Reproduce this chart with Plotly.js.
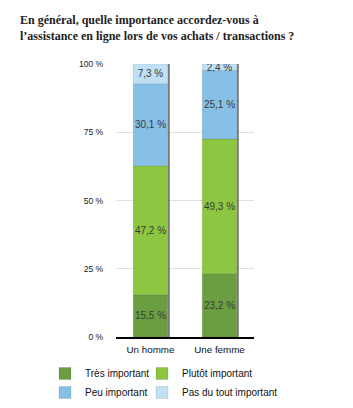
<!DOCTYPE html>
<html><head><meta charset="utf-8">
<script src="https://cdn.plot.ly/plotly-3.0.1.min.js"></script>
<style>html,body{margin:0;padding:0;background:#fff}#chart{width:353px;height:408px}</style>
</head><body><div id="chart"></div>
<script>
const categories = ["Un homme", "Une femme"];
const tresImportant = [15.5, 23.2];
const plutotImportant = [47.2, 49.3];
const peuImportant = [30.1, 25.1];
const pasDuTout = [7.3, 2.4];
const seriesNames = ["Très important", "Plutôt important", "Peu important", "Pas du tout important"];
const tickVals = [0, 25, 50, 75, 100];
const tickText = ["0 %", "25 %", "50 %", "75 %", "100 %"];

const colors = ["#6b9e41", "#8dc641", "#86c0e7", "#c0e0f5"];
const series = [tresImportant, plutotImportant, peuImportant, pasDuTout];
const legendOf = ["legend", "legend2", "legend", "legend2"];

// cumulative bases derived from the data
const bases = series.map((s, i) => categories.map((c, j) => series.slice(0, i).reduce((a, arr) => a + arr[j], 0)));
const totals = categories.map((c, j) => series.reduce((s, a) => s + a[j], 0));

const traces = [{
  type: "bar", x: categories, y: totals, base: 0, width: 0.03, offset: 0.25,
  marker: {color: "rgba(80,80,80,0.75)"}, showlegend: false, hoverinfo: "skip"
}];
series.forEach((vals, i) => traces.push({
  type: "bar", x: categories, y: vals, base: bases[i], name: seriesNames[i],
  width: 0.5, offset: -0.25,
  marker: {color: colors[i], line: {width: 0.6, color: "rgba(0,0,0,0.18)"}},
  texttemplate: "%{value:.1f} %", textposition: "inside", insidetextanchor: "middle",
  textfont: {family: "Liberation Sans, Arial", size: 10, color: "#3a3a3a"},
  textangle: 0, constraintext: "none",
  legend: legendOf[i], hoverinfo: "skip"
}));

const legFont = {family: "Liberation Sans, Arial", size: 10, color: "#111"};
const layout = {
  width: 353, height: 408,
  margin: {l: 116, r: 99, t: 64, b: 71, autoexpand: false},
  paper_bgcolor: "#fff", plot_bgcolor: "#fff",
  barmode: "overlay",
  separators: ", ",
  title: {
    text: "En général, quelle importance accordez-vous à<br>l’assistance en ligne lors de vos achats / transactions ?",
    font: {family: "Liberation Serif", size: 12, color: "#222", weight: "bold"},
    xref: "container", yref: "container", x: 20/353, xanchor: "left", y: 1 - 24/408, yanchor: "top"
  },
  xaxis: {
    type: "category", range: [-0.5, 1.5], showgrid: false, showline: true, linecolor: "#000", linewidth: 1.5,
    ticks: "", ticklabelstandoff: 3, tickfont: {family: "Liberation Sans, Arial", size: 9.8, color: "#111"}
  },
  yaxis: {
    range: [0, 100], tickmode: "array", tickvals: tickVals, ticktext: tickText, showgrid: true, gridcolor: "#e2e2e2",
    zeroline: false, tickfont: {family: "Liberation Sans, Arial", size: 8.6, color: "#222"},
    ticks: "outside", ticklen: 10, tickcolor: "rgba(0,0,0,0)"
  },
  legend: {x: 45/353, y: 1 - 359/408, xref: "container", yref: "container", xanchor: "left", yanchor: "top",
    font: legFont, tracegroupgap: 0, traceorder: "normal", bgcolor: "rgba(0,0,0,0)"},
  legend2: {x: 142/353, y: 1 - 359/408, xref: "container", yref: "container", xanchor: "left", yanchor: "top",
    font: legFont, tracegroupgap: 0, traceorder: "normal", bgcolor: "rgba(0,0,0,0)"},
  showlegend: true
};
Plotly.newPlot("chart", traces, layout, {displayModeBar: false, staticPlot: true});
</script></body></html>
